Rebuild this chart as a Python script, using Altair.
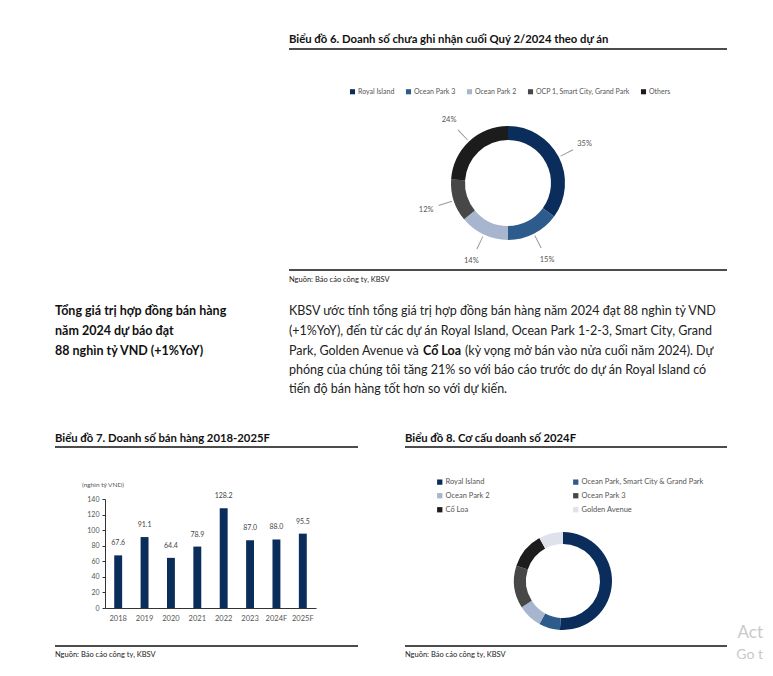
import altair as alt
import pandas as pd

FONT = "Lato"

# ---------------- data ----------------
d6_projects = ["Royal Island", "Ocean Park 3", "Ocean Park 2", "OCP 1, Smart City, Grand Park", "Others"]
d6_share = [35, 15, 14, 12, 24]
d6_colors = ["#0b2d5b", "#2d5b8b", "#a7b5cf", "#474747", "#1c1c1c"]

bar_years = ["2018", "2019", "2020", "2021", "2022", "2023", "2024F", "2025F"]
bar_values = [67.6, 91.1, 64.4, 78.9, 128.2, 87.0, 88.0, 95.5]
y_ticks = [0, 20, 40, 60, 80, 100, 120, 140]

d8_projects = ["Royal Island", "Ocean Park, Smart City & Grand Park", "Ocean Park 2",
               "Ocean Park 3", "Cổ Loa", "Golden Avenue"]
d8_share = [51, 7, 8, 14, 12, 8]
d8_colors = ["#0b2d5b", "#2d5b8b", "#a7b5cf", "#474747", "#1c1c1c", "#dde2eb"]

title6 = "Biểu đồ 6. Doanh số chưa ghi nhận cuối Quý 2/2024 theo dự án"
title7 = "Biểu đồ 7. Doanh số bán hàng 2018-2025F"
title8 = "Biểu đồ 8. Cơ cấu doanh số 2024F"
source = "Nguồn: Báo cáo công ty, KBSV"
unit7 = "(nghìn tỷ VND)"
left_lines = ["Tổng giá trị hợp đồng bán hàng", "năm 2024 dự báo đạt", "88 nghìn tỷ VND (+1%YoY)"]
para_lines = [
    "KBSV ước tính tổng giá trị hợp đồng bán hàng năm 2024 đạt 88 nghìn tỷ VND",
    "(+1%YoY), đến từ các dự án Royal Island, Ocean Park 1-2-3, Smart City, Grand",
    None,
    "phóng của chúng tôi tăng 21% so với báo cáo trước do dự án Royal Island có",
    "tiến độ bán hàng tốt hơn so với dự kiến.",
]
para3 = ["Park, Golden Avenue và ", "Cổ Loa", "(kỳ vọng mở bán vào nửa cuối năm 2024). Dự"]

# ---------------- helpers ----------------
O = 8  # page margin
dummy = pd.DataFrame({"a": [0]})


def px(v):
    return v - O


def txt(s, x, y, size, weight="normal", color="#222", align="left", font=FONT):
    return alt.Chart(dummy).mark_text(
        text=s, align=align, baseline="middle", fontSize=size, fontWeight=weight,
        color=color, font=font
    ).encode(x=alt.value(px(x)), y=alt.value(px(y)))


def hline(x1, x2, y, w=1.4, color="#111"):
    return alt.Chart(dummy).mark_rule(color=color, strokeWidth=w).encode(
        x=alt.value(px(x1)), x2=alt.value(px(x2)), y=alt.value(px(y)))


def ring_df(names, shares):
    df = pd.DataFrame({"project": names, "share": shares})
    df["end"] = df["share"].cumsum()
    df["start"] = df["end"] - df["share"]
    df["mid"] = (df["start"] + df["end"]) / 2
    df["label"] = df["share"].astype(str) + "%"
    return df


TH = alt.Scale(domain=[0, 100], range=[0, 6.283185307])

layers = []

# ---------------- texts & rules ----------------
layers += [
    txt(title6, 289, 40, 11.3, "bold", "#111"),
    hline(289, 727, 49),
    hline(289, 727, 270),
    txt(source, 289, 280, 7.5, color="#222"),
]
for i, s in enumerate(left_lines):
    layers.append(txt(s, 55, 311 + i * 20, 12.5, "bold", "#111"))
ys = [311, 331, 351, 370, 389]
for s, y in zip(para_lines, ys):
    if s is not None:
        layers.append(txt(s, 289, y, 12.5, color="#222"))
layers.append(txt(para3[0], 289, 351, 12.5, color="#222"))
layers.append(txt(para3[1], 423, 351, 12.5, "bold", "#111"))
layers.append(txt(para3[2], 465, 351, 12.5, color="#222"))

layers += [
    txt(title7, 55, 439, 11.3, "bold", "#111"),
    hline(55, 358, 447),
    hline(55, 358, 646),
    txt(source, 55, 655, 7.5, color="#222"),
    txt(unit7, 82, 485, 6.5, color="#555"),
    txt(title8, 405, 439, 11.3, "bold", "#111"),
    hline(405, 727, 447),
    hline(405, 727, 646),
    txt(source, 405, 655, 7.5, color="#222"),
    txt("Act", 763, 633, 17, color="#c9c9c9", align="right"),
    txt("Go t", 763, 655, 14, color="#c9c9c9", align="right"),
]

# ---------------- bar chart ----------------
bars_df = pd.DataFrame({"year": bar_years, "value": bar_values})
bar_base = alt.Chart(bars_df).encode(
    x=alt.X("year:N", sort=bar_years,
            scale=alt.Scale(range=[px(105), px(316)], paddingInner=0.7, paddingOuter=0.35),
            axis=alt.Axis(title=None, labelAngle=0, labelFontSize=7.5, labelColor="#555",
                          labelFont=FONT, domainColor="#333", ticks=False, labelPadding=6,
                          offset=-(660 - px(608)))),
    y=alt.Y("value:Q",
            scale=alt.Scale(domain=[0, 140], range=[px(608), px(499)], nice=False, zero=True),
            axis=alt.Axis(title=None, values=y_ticks, labelFontSize=7, labelColor="#555",
                          labelFont=FONT, domainColor="#333", tickColor="#333", tickSize=3,
                          grid=False, labelPadding=3, offset=-px(105))),
)
bar_chart = alt.layer(
    bar_base.mark_bar(color="#0b2d5b"),
    bar_base.mark_text(dy=-12, fontSize=7, color="#444", font=FONT).encode(
        text=alt.Text("value:Q", format=".1f")),
)
layers.append(bar_chart)

# ---------------- donut 6 ----------------
df6 = ring_df(d6_projects, d6_share)
cx6, cy6 = px(508), px(183)
d6_arc = alt.Chart(df6).mark_arc(innerRadius=43, outerRadius=57).encode(
    theta=alt.Theta("start:Q", scale=TH),
    theta2="end:Q",
    color=alt.Color("project:N", scale=alt.Scale(domain=d6_projects, range=d6_colors),
                    legend=alt.Legend(orient="none", legendX=px(349), legendY=px(88),
                                      direction="horizontal", title=None, symbolType="square",
                                      symbolSize=26, symbolStrokeWidth=0, labelFontSize=7,
                                      labelColor="#555", labelFont=FONT, columnPadding=10,
                                      labelOffset=2)),
    x=alt.value(cx6), y=alt.value(cy6),
)
d6_lead = alt.Chart(df6).transform_calculate(
    a="datum.mid - 0.12", b="datum.mid + 0.12"
).mark_arc(innerRadius=59, outerRadius=73, color="#9a9a9a").encode(
    theta=alt.Theta("a:Q", scale=TH), theta2="b:Q",
    x=alt.value(cx6), y=alt.value(cy6),
)
d6_lab = alt.Chart(df6).mark_text(radius=86, fontSize=7.5, color="#555", font=FONT).encode(
    theta=alt.Theta("mid:Q", scale=TH), text="label:N",
    x=alt.value(cx6), y=alt.value(cy6),
)
layers += [d6_arc, d6_lead, d6_lab]

# ---------------- donut 8 ----------------
df8 = ring_df(d8_projects, d8_share)
d8_arc = alt.Chart(df8).mark_arc(innerRadius=37, outerRadius=49).encode(
    theta=alt.Theta("start:Q", scale=TH),
    theta2="end:Q",
    color=alt.Color("project:N", scale=alt.Scale(domain=d8_projects, range=d8_colors),
                    legend=alt.Legend(orient="none", legendX=px(436), legendY=px(478),
                                      direction="horizontal", columns=2, title=None,
                                      symbolType="square", symbolSize=28, symbolStrokeWidth=0,
                                      labelFontSize=7.5, labelColor="#555", labelFont=FONT,
                                      columnPadding=82, rowPadding=5, labelOffset=2)),
    x=alt.value(px(563)), y=alt.value(px(581)),
)
layers.append(d8_arc)

chart = alt.layer(*layers).resolve_scale(color="independent").properties(
    width=757, height=660, padding=0,
    autosize=alt.AutoSizeParams(type="none"),
).configure_view(stroke=None)

chart.save("out.html", embed_options={"renderer": "svg", "actions": False})
